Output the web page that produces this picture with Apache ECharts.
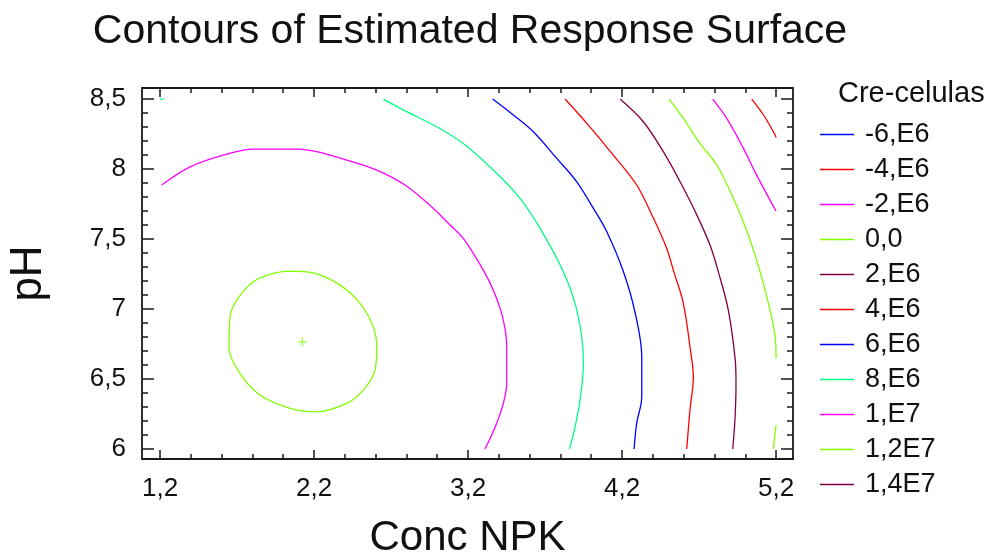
<!DOCTYPE html>
<html>
<head>
<meta charset="utf-8">
<script src="https://cdn.jsdelivr.net/npm/echarts@6/dist/echarts.min.js"></script>
<style>
  html, body { margin: 0; padding: 0; background: #fff; }
  #chart { width: 990px; height: 553px; }
</style>
</head>
<body>
<div id="chart"></div>
<script>
// contour levels shown in the legend
const levelNames = ['-6,E6', '-4,E6', '-2,E6', '0,0', '2,E6', '4,E6', '6,E6', '8,E6', '1,E7', '1,2E7', '1,4E7']
const levelColors = ['#0000ff', '#ff0000', '#ff00ff', '#80ff00', '#800040', '#ff0000', '#0000ff', '#00ff80', '#ff00ff', '#80ff00', '#800040']

// axis ticks
const xTicks = [1.2, 2.2, 3.2, 4.2, 5.2]
const yTicks = [6, 6.5, 7, 7.5, 8, 8.5]

// contour paths, [Conc NPK, pH]
const cM4E6 = [[5.042, 8.5], [5.119, 8.386], [5.194, 8.243], [5.2, 8.225]]
const cM2E6 = [[4.789, 8.5], [4.88, 8.362], [4.988, 8.148], [5.074, 7.957], [5.2, 7.7]]
const c0a = [[4.505, 8.5], [4.598, 8.362], [4.706, 8.183], [4.815, 8.029], [4.923, 7.791], [5.02, 7.529],
  [5.096, 7.267], [5.161, 6.993], [5.194, 6.802], [5.2, 6.648]]
const c0b = [[5.2, 6.171], [5.19, 6.08], [5.183, 6.0]]
const c2E6 = [[4.187, 8.5], [4.338, 8.338], [4.468, 8.124], [4.577, 7.909], [4.686, 7.671], [4.771, 7.457],
  [4.825, 7.267], [4.89, 6.993], [4.934, 6.648], [4.94, 6.469], [4.934, 6.231], [4.919, 6.0]]
const c4E6 = [[3.83, 8.5], [3.981, 8.314], [4.143, 8.1], [4.295, 7.886], [4.404, 7.648], [4.49, 7.433],
  [4.536, 7.267], [4.598, 7.041], [4.641, 6.731], [4.663, 6.517], [4.641, 6.279], [4.62, 6.0]]
const c6E6 = [[3.36, 8.5], [3.494, 8.386], [3.624, 8.266], [3.776, 8.076], [3.906, 7.909], [4.014, 7.719],
  [4.101, 7.552], [4.209, 7.267], [4.286, 6.969], [4.328, 6.659], [4.328, 6.374], [4.295, 6.183], [4.278, 6.0]]
const c8E6a = [[2.65, 8.5], [2.802, 8.41], [2.997, 8.302], [3.169, 8.183], [3.364, 7.993], [3.538, 7.791],
  [3.668, 7.576], [3.819, 7.267], [3.895, 7.041], [3.938, 6.802], [3.949, 6.612], [3.927, 6.35],
  [3.895, 6.159], [3.858, 6.0]]
const c8E6b = [[1.2, 8.5], [1.225, 8.5]]
const c1E7 = [[1.211, 7.886], [1.395, 8.016], [1.611, 8.1], [1.806, 8.143], [2.098, 8.143], [2.217, 8.124],
  [2.412, 8.064], [2.607, 7.993], [2.791, 7.886], [2.975, 7.719], [3.083, 7.6], [3.169, 7.505],
  [3.305, 7.267], [3.377, 7.1], [3.429, 6.921], [3.451, 6.731], [3.451, 6.469], [3.429, 6.326],
  [3.377, 6.159], [3.31, 6.0]]
const c12E7 = [[2.044, 7.271], [2.195, 7.259], [2.369, 7.171], [2.499, 7.041], [2.585, 6.874], [2.607, 6.731],
  [2.596, 6.564], [2.52, 6.421], [2.412, 6.326], [2.217, 6.266], [2.044, 6.291], [1.849, 6.386],
  [1.719, 6.541], [1.648, 6.731], [1.655, 6.945], [1.698, 7.064], [1.806, 7.195], [1.936, 7.255],
  [2.044, 7.271]]
const optimum = [[2.124, 6.766]]

const pieces = [
  ['-6,E6', []], ['-4,E6', cM4E6], ['-2,E6', cM2E6], ['0,0', c0a], ['0,0', c0b],
  ['2,E6', c2E6], ['4,E6', c4E6], ['6,E6', c6E6], ['8,E6', c8E6a], ['8,E6', c8E6b],
  ['1,E7', c1E7], ['1,2E7', c12E7], ['1,4E7', []]
]

const FONT = '"Liberation Sans", Arial, sans-serif'
const X_MIN = 1.083, X_MAX = 5.31, Y_MIN = 5.929, Y_MAX = 8.579

let xMinor = [], yMinor = []
for (let i = 0; i <= 20; i++) xMinor.push(+(1.2 + i * 0.2).toFixed(1))
for (let i = 0; i <= 25; i++) yMinor.push(+(6 + i * 0.1).toFixed(1))

const comma = v => String(v).replace('.', ',')

function axis (kind, pos, ticks, len, withLabel, withLine) {
  let a = {
    type: 'value',
    position: pos,
    min: kind === 'x' ? X_MIN : Y_MIN,
    max: kind === 'x' ? X_MAX : Y_MAX,
    splitLine: { show: false },
    axisLine: { show: withLine, onZero: false, lineStyle: { color: '#1a1a1a', width: 1.8 } },
    axisTick: { show: true, inside: true, length: len, customValues: ticks, lineStyle: { color: '#1a1a1a', width: 1.5 } },
    axisLabel: { show: false }
  }
  if (withLabel) {
    a.axisLabel = {
      show: true,
      customValues: ticks,
      formatter: comma,
      color: '#111',
      fontFamily: FONT,
      fontSize: 26,
      margin: kind === 'x' ? 17 : 16
    }
  }
  return a
}

const chart = echarts.init(document.getElementById('chart'))

let series = pieces.map((p) => {
  let color = levelColors[levelNames.indexOf(p[0])]
  return {
    name: p[0],
    type: 'line',
    data: p[1],
    symbol: 'none',
    showSymbol: false,
    smooth: 0.35,
    silent: true,
    lineStyle: { color: color, width: 1.3 },
    itemStyle: { color: color }
  }
})
series.push({
  name: 'optimum',
  type: 'scatter',
  data: optimum,
  symbol: 'path://M4,0h1.2v9.2h-1.2zM0,4h9.2v1.2h-9.2z',
  symbolSize: 9,
  itemStyle: { color: '#80ff00' },
  silent: true
})

chart.setOption({
  animation: false,
  backgroundColor: '#fff',
  title: [{
    text: 'Contours of Estimated Response Surface',
    left: 465,
    top: 6,
    textAlign: 'center',
    textStyle: { fontFamily: FONT, fontSize: 41, fontWeight: 'normal', color: '#111' }
  }, {
    text: 'Cre-celulas',
    left: 833,
    top: 74,
    textStyle: { fontFamily: FONT, fontSize: 29, fontWeight: 'normal', color: '#111' }
  }],
  legend: {
    orient: 'vertical',
    left: 820,
    top: 117,
    padding: 0,
    data: levelNames,
    icon: 'rect',
    itemWidth: 34,
    itemHeight: 1.5,
    itemGap: 0,
    selectedMode: false,
    textStyle: { fontFamily: FONT, fontSize: 27, color: '#111', lineHeight: 35, padding: [0, 0, 0, 6] }
  },
  grid: { left: 142, top: 88, width: 651, height: 371, show: false, outerBoundsMode: 'none', containLabel: false },
  xAxis: [
    Object.assign(axis('x', 'bottom', xTicks, 9, true, true), {
      name: 'Conc NPK', nameLocation: 'middle', nameGap: 58,
      nameTextStyle: { fontFamily: FONT, fontSize: 42, color: '#111' }
    }),
    axis('x', 'bottom', xMinor, 5, false, false),
    axis('x', 'top', xTicks, 9, false, true),
    axis('x', 'top', xMinor, 5, false, false)
  ],
  yAxis: [
    Object.assign(axis('y', 'left', yTicks, 12, true, true), {
      name: 'pH', nameLocation: 'middle', nameGap: 91, nameRotate: 90,
      nameTextStyle: { fontFamily: FONT, fontSize: 44, color: '#111' }
    }),
    axis('y', 'left', yMinor, 6, false, false),
    axis('y', 'right', yTicks, 12, false, true),
    axis('y', 'right', yMinor, 6, false, false)
  ],
  series: series
})
</script>
</body>
</html>
